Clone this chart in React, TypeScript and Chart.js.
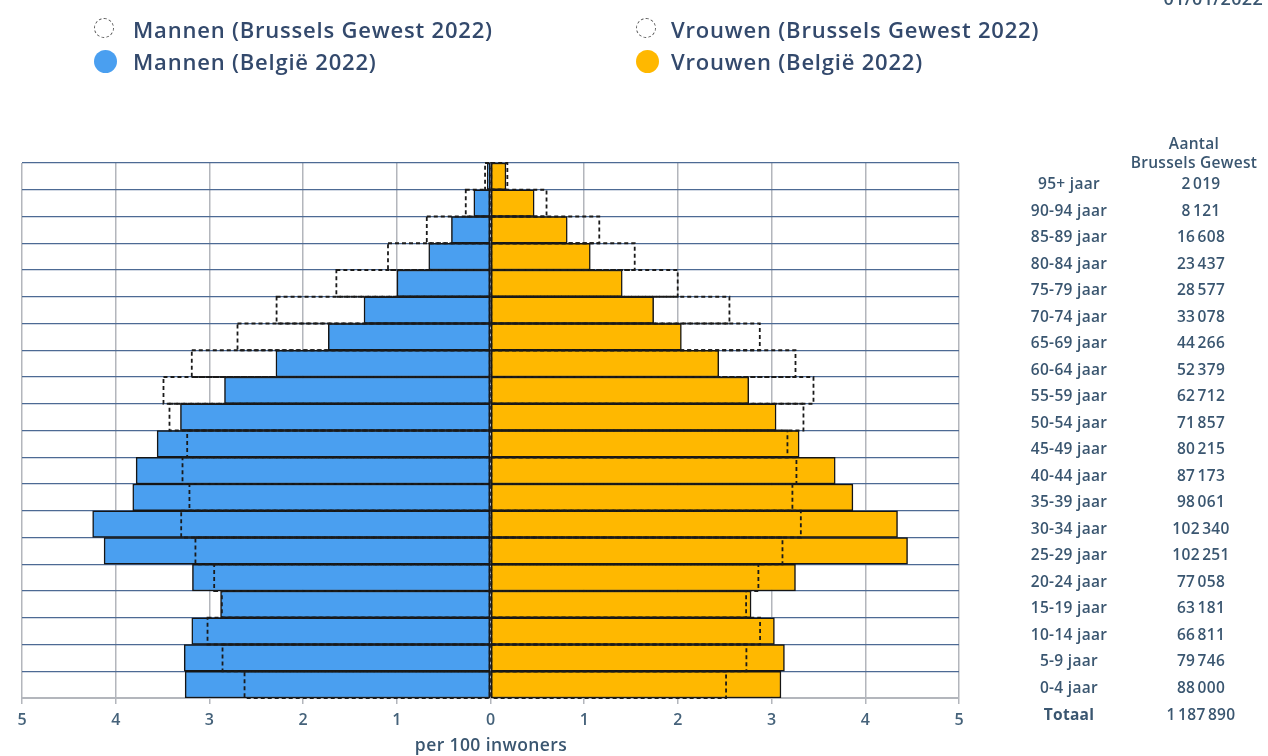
import React, { useEffect, useRef } from "react";
import { Chart, registerables } from "chart.js";

Chart.register(...registerables);

const ageGroups = [
  "95+ jaar", "90-94 jaar", "85-89 jaar", "80-84 jaar", "75-79 jaar",
  "70-74 jaar", "65-69 jaar", "60-64 jaar", "55-59 jaar", "50-54 jaar",
  "45-49 jaar", "40-44 jaar", "35-39 jaar", "30-34 jaar", "25-29 jaar",
  "20-24 jaar", "15-19 jaar", "10-14 jaar", "5-9 jaar", "0-4 jaar",
];

const menBelgium = [0.035, 0.178, 0.417, 0.659, 0.998, 1.35, 1.731, 2.29, 2.839, 3.309, 3.558, 3.782, 3.818, 4.246, 4.124, 3.181, 2.881, 3.188, 3.269, 3.259];
const menBrussels = [0.058, 0.264, 0.68, 1.094, 1.645, 2.283, 2.7, 3.188, 3.49, 3.426, 3.237, 3.287, 3.213, 3.301, 3.149, 2.949, 2.867, 3.02, 2.86, 2.625];
const womenBelgium = [0.165, 0.466, 0.819, 1.065, 1.406, 1.741, 2.037, 2.436, 2.756, 3.048, 3.294, 3.679, 3.868, 4.344, 4.451, 3.255, 2.781, 3.03, 3.137, 3.1];
const womenBrussels = [0.18, 0.598, 1.161, 1.539, 1.998, 2.55, 2.874, 3.255, 3.447, 3.34, 3.169, 3.265, 3.222, 3.312, 3.116, 2.859, 2.728, 2.877, 2.731, 2.514];

const brusselsCounts = [
  "2 019", "8 121", "16 608", "23 437", "28 577", "33 078", "44 266", "52 379",
  "62 712", "71 857", "80 215", "87 173", "98 061", "102 340", "102 251",
  "77 058", "63 181", "66 811", "79 746", "88 000",
];
const totalLabel = "Totaal";
const totalCount = "1 187 890";
const tableHeader = ["Aantal", "Brussels Gewest"];
const dateLabel = "01/01/2022";
const axisTitle = "per 100 inwoners";
const xTicks = [-5, -4, -3, -2, -1, 0, 1, 2, 3, 4, 5];

const FONT = "'Open Sans', 'Noto Sans', sans-serif";
const TEXT = "#3a5670";

const dashedPlugin = {
  id: "dashedOutline",
  afterDatasetsDraw(chart: any) {
    const ctx = chart.ctx;
    chart.data.datasets.forEach((ds: any, i: number) => {
      if (!ds.dashed) return;
      const meta = chart.getDatasetMeta(i);
      ctx.save();
      ctx.setLineDash([4, 3]);
      ctx.lineWidth = 1.8;
      ctx.strokeStyle = "#1a1a1a";
      meta.data.forEach((el: any) => {
        const p = el.getProps(["x", "y", "base", "height"], true);
        const l = Math.min(p.x, p.base);
        const r = Math.max(p.x, p.base);
        ctx.strokeRect(l, p.y - p.height / 2, r - l, p.height);
      });
      ctx.restore();
    });
  },
};

export default function App() {
  const ref = useRef<HTMLCanvasElement>(null);

  useEffect(() => {
    document.body.style.margin = "0";
    const canvas = ref.current;
    if (!canvas) return;
    const common = {
      grouped: false,
      barPercentage: 1,
      categoryPercentage: 1,
      borderSkipped: false,
    };
    const chart = new Chart(canvas, {
      type: "bar",
      data: {
        labels: ageGroups,
        datasets: [
          {
            ...common,
            label: "Mannen (België 2022)",
            data: menBelgium.map((v) => -v),
            backgroundColor: "#4a9ff0",
            borderColor: "#151515",
            borderWidth: 1.5,
          },
          {
            ...common,
            label: "Vrouwen (België 2022)",
            data: womenBelgium,
            backgroundColor: "#ffb800",
            borderColor: "#151515",
            borderWidth: 1.5,
          },
          {
            ...common,
            label: "Mannen (Brussels Gewest 2022)",
            data: menBrussels.map((v) => -v),
            backgroundColor: "rgba(0,0,0,0)",
            borderWidth: 0,
            dashed: true,
          },
          {
            ...common,
            label: "Vrouwen (Brussels Gewest 2022)",
            data: womenBrussels,
            backgroundColor: "rgba(0,0,0,0)",
            borderWidth: 0,
            dashed: true,
          },
        ] as any,
      },
      options: {
        indexAxis: "y",
        responsive: false,
        animation: false,
        devicePixelRatio: 1,
        layout: { padding: { left: 22, right: 309, top: 163, bottom: 0 } },
        plugins: { legend: { display: false }, tooltip: { enabled: false } },
        scales: {
          x: {
            type: "linear",
            min: xTicks[0],
            max: xTicks[xTicks.length - 1],
            afterBuildTicks: (s: any) => {
              s.ticks = xTicks.map((v) => ({ value: v }));
            },
            ticks: {
              callback: (v: any) => String(Math.abs(Number(v))),
              font: { family: FONT, size: 16, weight: "600" },
              color: "#45627a",
              padding: 7,
            },
            grid: { color: "#b3b6bc", lineWidth: 1.5, tickLength: 6 },
            border: { display: true, color: "#b3b6bc", width: 2 },
            afterFit: (s: any) => {
              s.height = 58;
            },
          },
          y: {
            ticks: { display: false },
            grid: { color: "#4d6a94", lineWidth: 1.2, offset: true, drawTicks: false },
            border: { display: false },
            afterFit: (s: any) => {
              s.width = 0;
            },
          },
        },
      } as any,
      plugins: [dashedPlugin],
    });
    return () => chart.destroy();
  }, []);

  const legendText: React.CSSProperties = {
    position: "absolute",
    fontFamily: FONT,
    fontWeight: 600,
    fontSize: 22,
    letterSpacing: 0.8,
    color: "#33496c",
    whiteSpace: "nowrap",
    lineHeight: "24px",
  };
  const circle = (x: number, y: number, filled: string | null): React.CSSProperties => ({
    position: "absolute",
    left: x - 11,
    top: y - 11,
    width: filled ? 23 : 20,
    height: filled ? 23 : 20,
    borderRadius: "50%",
    background: filled || "transparent",
    border: filled ? "none" : "1px dashed #555",
    boxSizing: "border-box",
  });
  const tableText = (x: number, y: number, bold = false, num = false): React.CSSProperties => ({
    position: "absolute",
    left: x - 90,
    width: 180,
    top: y - 11,
    lineHeight: "22px",
    textAlign: "center",
    fontFamily: FONT,
    fontWeight: bold ? 700 : 600,
    fontSize: 15.5,
    letterSpacing: 0.3,
    color: TEXT,
    whiteSpace: "nowrap",
    wordSpacing: num ? -2 : 0,
  });

  return (
    <div style={{ position: "relative", width: 1268, height: 756, overflow: "hidden", background: "#fff" }}>
      <canvas ref={ref} width={1268} height={756} style={{ position: "absolute", left: 0, top: 0 }} />
      <div style={circle(105, 29, null)} />
      <div style={{ ...legendText, left: 133, top: 17 }}>Mannen (Brussels Gewest 2022)</div>
      <div style={circle(105, 61, "#4a9ff0")} />
      <div style={{ ...legendText, left: 133, top: 49 }}>Mannen (België 2022)</div>
      <div style={circle(647, 29, null)} />
      <div style={{ ...legendText, left: 671, top: 17 }}>Vrouwen (Brussels Gewest 2022)</div>
      <div style={circle(647, 61, "#ffb800")} />
      <div style={{ ...legendText, left: 671, top: 49 }}>Vrouwen (België 2022)</div>
      <div
        style={{
          position: "absolute",
          right: 5,
          top: -12,
          fontFamily: FONT,
          fontWeight: 600,
          fontSize: 18,
          letterSpacing: 0.3,
          color: TEXT,
          lineHeight: "20px",
        }}
      >
        {dateLabel}
      </div>
      <div style={tableText(1194, 143)}>{tableHeader[0]}</div>
      <div style={tableText(1194, 162)}>{tableHeader[1]}</div>
      {ageGroups.map((g, i) => (
        <React.Fragment key={g}>
          <div style={tableText(1069, 183.3 + i * 26.5)}>{g}</div>
          <div style={tableText(1201, 183.3 + i * 26.5, false, true)}>{brusselsCounts[i]}</div>
        </React.Fragment>
      ))}
      <div style={tableText(1069, 714, true)}>{totalLabel}</div>
      <div style={tableText(1201, 714, false, true)}>{totalCount}</div>
      <div
        style={{
          position: "absolute",
          left: 491 - 150,
          width: 300,
          top: 733,
          lineHeight: "22px",
          textAlign: "center",
          fontFamily: FONT,
          fontWeight: 600,
          fontSize: 17.5,
          letterSpacing: 0.4,
          color: TEXT,
        }}
      >
        {axisTitle}
      </div>
    </div>
  );
}
